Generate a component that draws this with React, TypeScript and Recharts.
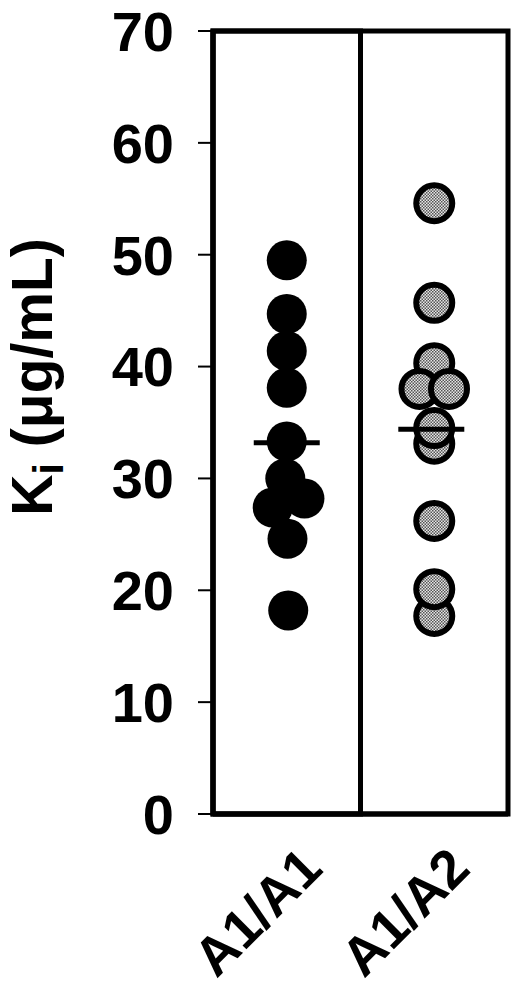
import React from 'react';
import { ScatterChart, Scatter, XAxis, YAxis, ReferenceArea } from 'recharts';

const categories = ['A1/A1', 'A1/A2'];
const yTicks = [0, 10, 20, 30, 40, 50, 60, 70];

// A1/A1 (black) Ki values and small horizontal jitter (category units)
const a1a1Values = [49.5, 44.7, 41.4, 38.1, 33.3, 30.0, 28.2, 27.4, 24.6, 18.2];
const a1a1Jitter = [0, 0, 0, 0, 0, -0.01, 0.12, -0.095, 0.005, 0.01];

// A1/A2 (grey) Ki values and jitter
const a1a2Values = [54.6, 45.7, 40.3, 38.0, 38.0, 33.1, 34.5, 26.2, 17.7, 20.1];
const a1a2Jitter = [0, 0, 0, -0.1, 0.1, 0, 0, 0, 0, 0];

const means = [33.2, 34.4];
const meanJitter = [0, -0.02];

const FONT = '"Liberation Sans", Arial, Helvetica, sans-serif';

const a1a1Data = a1a1Values.map((v, i) => ({ x: 0.5 + a1a1Jitter[i], y: v }));
const a1a2Data = a1a2Values.map((v, i) => ({ x: 1.5 + a1a2Jitter[i], y: v }));
const meanData = means.map((v, i) => ({ x: i + 0.5 + meanJitter[i], y: v }));

const BlackDot = (props: any) => <circle cx={props.cx} cy={props.cy} r={20} fill="#000" />;

const GreyDot = (props: any) => (
  <g>
    <defs>
      <pattern id="chk" width="3" height="3" patternUnits="userSpaceOnUse">
        <rect width="3" height="3" fill="#e6e6e6" />
        <rect x="0" y="0" width="1.5" height="1.5" fill="#555" />
        <rect x="1.5" y="1.5" width="1.5" height="1.5" fill="#555" />
      </pattern>
    </defs>
    <circle cx={props.cx} cy={props.cy} r={18} fill="url(#chk)" stroke="#000" strokeWidth={6} />
  </g>
);

const MeanBar = (props: any) => (
  <line x1={props.cx - 33} x2={props.cx + 33} y1={props.cy} y2={props.cy} stroke="#000" strokeWidth={5} />
);

const XTick = (props: any) => {
  const { x, y, payload } = props;
  const idx = Math.round(payload.value - 0.5);
  const tx = x + 38;
  const ty = y + 57;
  return (
    <text
      x={tx}
      y={ty}
      textAnchor="end"
      transform={`rotate(-45 ${tx} ${ty})`}
      fontFamily={FONT}
      fontWeight="bold"
      fontSize={54}
      fill="#000"
    >
      {categories[idx]}
    </text>
  );
};

const YLabel = () => (
  <text
    x={52}
    y={377}
    textAnchor="middle"
    transform="rotate(-90 52 377)"
    fontFamily={FONT}
    fontWeight="bold"
    fontSize={57}
    fill="#000"
  >
    K<tspan fontSize={42} dy={11}>i</tspan>
    <tspan dy={-11}> (μg/mL)</tspan>
  </text>
);

export default function App() {
  return (
    <div style={{ position: 'absolute', left: 0, top: 0, background: '#fff' }}>
      <ScatterChart width={520} height={989} margin={{ top: 31, right: 12, bottom: 75, left: 0 }}>
        <XAxis
          type="number"
          dataKey="x"
          domain={[0, 2]}
          ticks={[0.5, 1.5]}
          height={100}
          axisLine={{ stroke: '#000', strokeWidth: 5 }}
          tickLine={false}
          tickSize={0}
          tickMargin={0}
          tick={<XTick />}
          interval={0}
        />
        <YAxis
          type="number"
          dataKey="y"
          domain={[0, 70]}
          ticks={yTicks}
          width={213}
          interval={0}
          axisLine={{ stroke: '#000', strokeWidth: 5 }}
          tickLine={{ stroke: '#000', strokeWidth: 2 }}
          tickSize={15}
          tickMargin={24}
          tick={{ fontFamily: FONT, fontWeight: 'bold', fontSize: 56, fill: '#000' }}
          label={{ content: () => <YLabel /> }}
        />
        <ReferenceArea x1={0} x2={2} y1={0} y2={70} fill="none" fillOpacity={0} stroke="#000" strokeWidth={5} />
        <ReferenceArea x1={0} x2={1} y1={0} y2={70} fill="none" fillOpacity={0} stroke="#000" strokeWidth={5} />
        <Scatter data={a1a1Data} shape={BlackDot} isAnimationActive={false} />
        <Scatter data={a1a2Data} shape={GreyDot} isAnimationActive={false} />
        <Scatter data={meanData} shape={MeanBar} isAnimationActive={false} />
      </ScatterChart>
    </div>
  );
}
